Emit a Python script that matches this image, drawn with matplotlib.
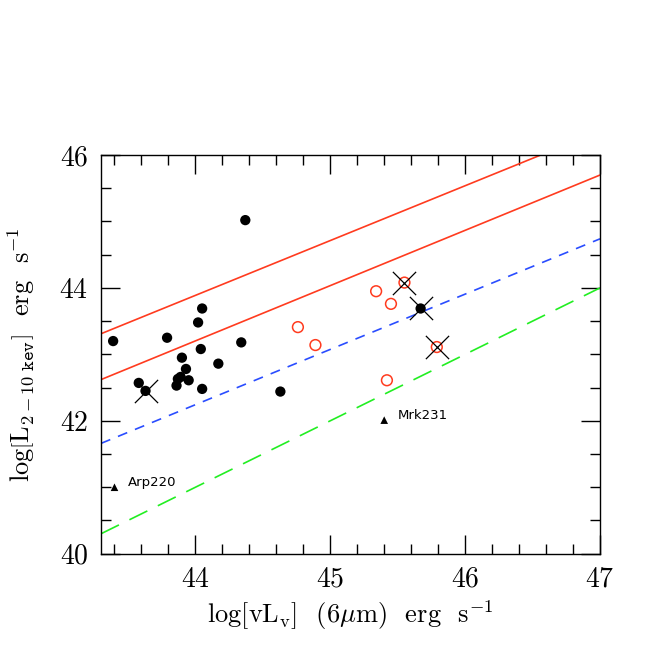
import numpy as np
import matplotlib
matplotlib.use("Agg")
import matplotlib.pyplot as plt
from matplotlib.ticker import MultipleLocator

plt.rcParams['font.family'] = 'serif'
plt.rcParams['font.serif'] = ['cmr10', 'DejaVu Serif']
plt.rcParams['mathtext.fontset'] = 'cm'
plt.rcParams['axes.formatter.use_mathtext'] = True

# filled black circles
blk_x = [43.39, 43.79, 44.02, 44.05, 44.37, 44.04, 44.34, 43.90, 44.17, 43.93,
         43.89, 43.86, 43.87, 43.95, 43.58, 43.63, 44.05, 44.63, 45.67]
blk_y = [43.20, 43.25, 43.48, 43.69, 45.02, 43.08, 43.18, 42.95, 42.86, 42.78,
         42.66, 42.53, 42.63, 42.61, 42.57, 42.45, 42.48, 42.44, 43.69]

# open red circles
red_x = [44.76, 44.89, 45.34, 45.45, 45.55, 45.79, 45.42]
red_y = [43.41, 43.14, 43.95, 43.76, 44.08, 43.11, 42.61]

# crossed sources
crs_x = [43.63, 45.67, 45.55, 45.79]
crs_y = [42.45, 43.69, 44.08, 43.11]

# labelled triangles
tri_x = [43.40, 45.40]
tri_y = [41.00, 42.01]
tri_names = ['Arp220', 'Mrk231']

# relations: y = a*(x - 43.3) + b
rel_slope = [0.825, 0.832, 0.832, 1.0]
rel_icpt = [43.31, 42.62, 41.66, 40.30]
rel_color = ['#ff3b1f', '#ff3b1f', '#2a4dff', '#22ee22']
rel_dash = [None, None, (6, 5), (12, 7)]

fig = plt.figure(figsize=(6.54, 6.54), dpi=100)
ax = fig.add_axes([101/654, 1-553.7/654, (600-101)/654, (553.7-155)/654])

xx = np.linspace(43.3, 47, 200)
for a, b, c, d in zip(rel_slope, rel_icpt, rel_color, rel_dash):
    ln, = ax.plot(xx, a*(xx-43.3)+b, color=c, lw=1.2)
    if d is not None:
        ln.set_dashes(d)

ax.scatter(blk_x, blk_y, s=55, c='black', edgecolors='none', zorder=3)
ax.scatter(red_x, red_y, s=60, facecolors='none', edgecolors='#ff3b1f', linewidths=1.1, zorder=3)
ax.scatter(crs_x, crs_y, s=280, marker='x', c='black', linewidths=0.9, zorder=4)
ax.scatter(tri_x, tri_y, s=30, marker='^', c='black', edgecolors='none', zorder=3)
for x, y, t in zip(tri_x, tri_y, tri_names):
    ax.text(x+0.1, y+0.07, t, fontsize=9.5, family='DejaVu Sans', va='center', ha='left')

ax.set_xlim(43.3, 47)
ax.set_ylim(40, 46)
ax.xaxis.set_major_locator(MultipleLocator(1))
ax.xaxis.set_minor_locator(MultipleLocator(0.2))
ax.yaxis.set_major_locator(MultipleLocator(2))
ax.yaxis.set_minor_locator(MultipleLocator(0.5))
ax.tick_params(which='both', direction='in', top=True, right=True, width=1.0)
ax.tick_params(which='major', length=14, labelsize=20, pad=9)
ax.tick_params(which='minor', length=7)
for s in ax.spines.values():
    s.set_linewidth(1.0)

ax.set_xlabel(r'log[vL$_\mathrm{v}$]  (6$\mu$m)  erg  s$^{-1}$', fontsize=19, labelpad=4)
ax.set_ylabel(r'log$\left[\mathrm{L}_{2-10\ \mathtt{kev}}\right]$  erg  s$^{-1}$', fontsize=19, labelpad=16)

fig.savefig('out.png', dpi=100)
